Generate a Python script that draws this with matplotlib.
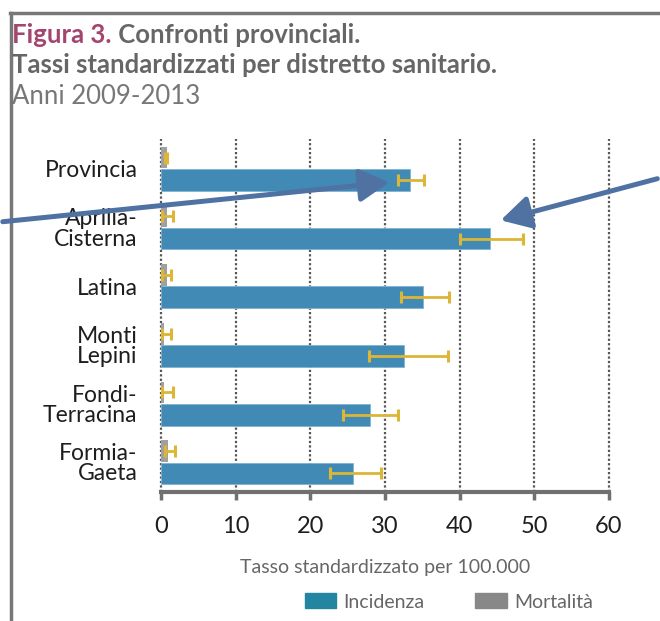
import numpy as np
import matplotlib
matplotlib.use("Agg")
import matplotlib.pyplot as plt
from matplotlib.patches import Patch, FancyArrowPatch
from matplotlib.lines import Line2D

plt.rcParams['font.family'] = ['Lato', 'DejaVu Sans']

# Data
districts = ['Provincia', 'Aprilia-\nCisterna', 'Latina', 'Monti\nLepini',
             'Fondi-\nTerracina', 'Formia-\nGaeta']
incidenza = [33.3, 44.1, 35.1, 32.5, 28.0, 25.7]
inc_low = [31.7, 40.0, 32.1, 27.8, 24.4, 22.7]
inc_high = [35.2, 48.5, 38.6, 38.4, 31.8, 29.5]
mortalita = [0.75, 0.75, 0.75, 0.45, 0.45, 1.0]
mor_low = [0.6, 0.2, 0.2, 0.1, 0.1, 0.6]
mor_high = [0.8, 1.65, 1.3, 1.3, 1.65, 1.9]
xticks = [0, 10, 20, 30, 40, 50, 60]

W, H = 660, 621
fig = plt.figure(figsize=(W / 100, H / 100), dpi=100)
ax = fig.add_axes([161 / W, 1 - 492 / H, (609 - 161) / W, (492 - 139) / H])

y = np.arange(len(districts))
off = 0.19
h = 0.37
inc = np.array(incidenza)
mor = np.array(mortalita)

ax.barh(y + off, inc, height=h, color='#418ab6', edgecolor='#7fb3d3', linewidth=0.6, zorder=2)
ax.barh(y - off, mor, height=h, color='#a0a0a0', zorder=2)
ax.errorbar(inc, y + off, xerr=[inc - np.array(inc_low), np.array(inc_high) - inc],
            fmt='none', ecolor='#dcb634', elinewidth=2, capsize=4.5, capthick=2.2, zorder=3)
ax.errorbar(mor, y - off, xerr=[mor - np.array(mor_low), np.array(mor_high) - mor],
            fmt='none', ecolor='#dcb634', elinewidth=2, capsize=4, capthick=2.2, zorder=3)

ax.set_xlim(0, 60)
ax.set_ylim(len(districts) - 1 + 0.507, -0.507)
ax.set_xticks(xticks)
ax.set_xticklabels([str(t) for t in xticks], fontsize=17, color='#1e1e1e')
ax.set_yticks(y)
ax.set_yticklabels(districts, fontsize=16.5, color='#1e1e1e', linespacing=0.95)
ax.tick_params(axis='y', length=0, pad=17)
ax.tick_params(axis='x', length=6, width=2.5, color='#707070', pad=11, direction='out')
for s in ['top', 'right', 'left']:
    ax.spines[s].set_visible(False)
ax.spines['bottom'].set_color('#707070')
ax.spines['bottom'].set_linewidth(3)
ax.grid(axis='x', linestyle=(0, (1, 1)), color='#555555', linewidth=1.6, zorder=0)
for gl in ax.get_xgridlines():
    gl.set_clip_on(False)
ax.set_axisbelow(True)

ax.set_xlabel('Tasso standardizzato per 100.000', fontsize=14, color='#666666', labelpad=16)

# Title
t1 = fig.text(12 / W, 1 - 43 / H, 'Figura 3.', fontsize=18.5, fontweight='bold',
              color='#a3456f', va='baseline', ha='left')
ax.annotate(' Confronti provinciali.', xy=(1, 0), xycoords=t1, fontsize=18.5,
            fontweight='bold', color='#666666', va='bottom', ha='left',
            annotation_clip=False)
fig.text(12 / W, 1 - 73 / H, 'Tassi standardizzati per distretto sanitario.', fontsize=18.5,
         fontweight='bold', color='#666666', va='baseline', ha='left')
fig.text(12 / W, 1 - 104 / H, 'Anni 2009-2013', fontsize=18.5, color='#777777',
         va='baseline', ha='left')

# Frame
fig.add_artist(Line2D([10 / W, 1], [1 - 13 / H, 1 - 13 / H], color='#777777', lw=2.5))
fig.add_artist(Line2D([11 / W, 11 / W], [0, 1 - 13 / H], color='#777777', lw=2.5))

# Legend
handles = [Patch(color='#2385a0', label='Incidenza'), Patch(color='#888888', label='Mortalità')]
fig.legend(handles=handles, loc='center', bbox_to_anchor=(449 / W, 1 - 602 / H), ncol=2,
           frameon=False, fontsize=14, handlelength=1.6, handleheight=0.8,
           handletextpad=0.4, columnspacing=2.6, labelcolor='#666666')

# Arrows
for (x0, y0), (x1, y1) in [((0, 222), (392, 182)), ((660, 178), (498, 221))]:
    fig.add_artist(FancyArrowPatch((x0 / W, 1 - y0 / H), (x1 / W, 1 - y1 / H),
                                   transform=fig.transFigure, arrowstyle='-|>,head_length=0.9,head_width=0.5',
                                   mutation_scale=20, color='#4f72a3', lw=3.6, zorder=10))

fig.savefig('out.png', dpi=100)
